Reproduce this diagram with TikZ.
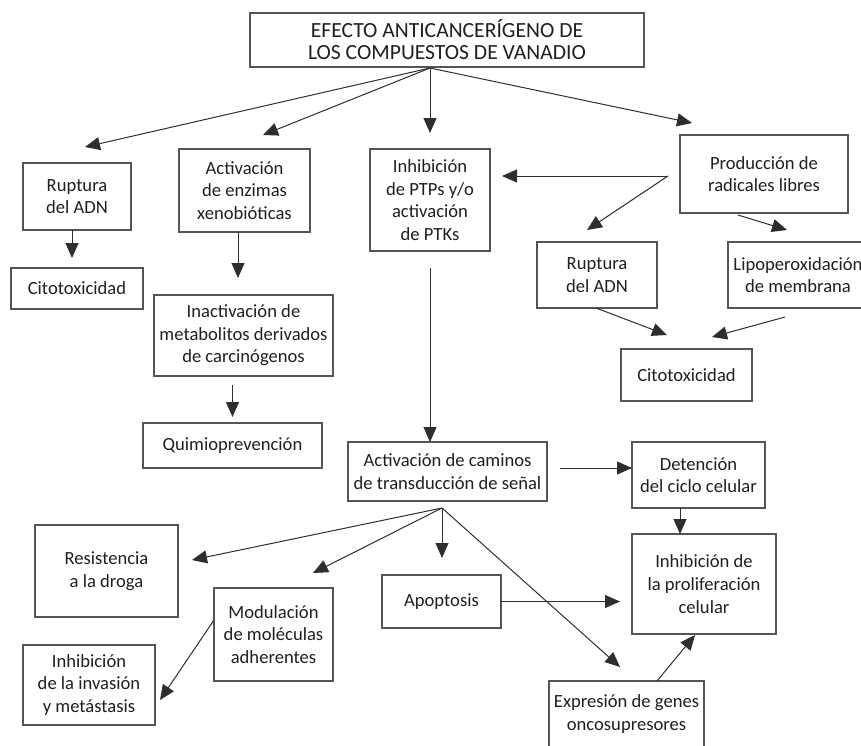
\documentclass[tikz,border=0pt]{standalone}
\usepackage{fontspec}
\setmainfont{Carlito}
\usepackage{tikz}
\usetikzlibrary{arrows.meta, positioning, calc}

\definecolor{linea}{HTML}{2E2E2E}
\definecolor{borde}{HTML}{555555}

\begin{document}
\begin{tikzpicture}[x=0.5pt, y=-0.5pt, >={Triangle[length=7.5pt,width=6.5pt]},
        caja/.style={draw=borde, line width=0.65pt, align=center, inner sep=0pt, outer sep=0pt,
          font=\fontsize{9.3}{11.3}\selectfont, text=black!88},
        flecha/.style={->, draw=linea, line width=0.5pt}]
        \useasboundingbox (0,0) rectangle (861,745);
        \clip (0,0) rectangle (861,745);
        % cajas
        \node[caja, minimum width=197pt, minimum height=27pt, font=\fontsize{10.8}{11}\selectfont] (efecto) at (447,40) {EFECTO ANTICANCERÍGENO DE\\LOS COMPUESTOS DE VANADIO};
        \node[caja, minimum width=54pt, minimum height=33.5pt] (rup1) at (77,196.5) {Ruptura\\del ADN};
        \node[caja, minimum width=66pt, minimum height=20.5pt] (cito1) at (77,288.5) {Citotoxicidad};
        \node[caja, minimum width=65.5pt, minimum height=41.5pt] (enz) at (244.5,190.5) {Activación\\de enzimas\\xenobióticas};
        \node[caja, minimum width=89.5pt, minimum height=40.5pt] (inact) at (243.5,335.5) {Inactivación de\\metabolitos derivados\\de carcinógenos};
        \node[caja, minimum width=89.5pt, minimum height=22.5pt] (quimio) at (232.5,445.5) {Quimioprevención};
        \node[caja, minimum width=60pt, minimum height=51pt] (ptp) at (430,200) {Inhibición\\de PTPs y/o\\activación\\de PTKs};
        \node[caja, minimum width=84pt, minimum height=39pt] (prod) at (764,174) {Producción de\\radicales libres};
        \node[caja, minimum width=60pt, minimum height=33pt] (rup2) at (597,275) {Ruptura\\del ADN};
        \node[caja, minimum width=70pt, minimum height=33pt] (lipo) at (798,275) {Lipoperoxidación\\de membrana};
        \node[caja, minimum width=65.5pt, minimum height=26pt] (cito2) at (686.5,375) {Citotoxicidad};
        \node[caja, minimum width=99.5pt, minimum height=29.5pt] (cam) at (447.5,471.5) {Activación de caminos\\de transducción de señal};
        \node[caja, minimum width=66.5pt, minimum height=33pt] (det) at (698.5,475) {Detención\\del ciclo celular};
        \node[caja, minimum width=72pt, minimum height=50pt] (prol) at (704,584) {Inhibición de\\la proliferación\\celular};
        \node[caja, minimum width=71.5pt, minimum height=46pt] (res) at (106.5,571) {Resistencia\\a la droga};
        \node[caja, minimum width=59.5pt, minimum height=46.5pt] (mod) at (273.5,634.5) {Modulación\\de moléculas\\adherentes};
        \node[caja, minimum width=66pt, minimum height=40pt] (inv) at (89,685) {Inhibición\\de la invasión\\y metástasis};
        \node[caja, minimum width=59.5pt, minimum height=26.5pt] (apo) at (441.5,601.5) {Apoptosis};
        \node[caja, minimum width=77.5pt, minimum height=33pt] (expr) at (626.5,714) {Expresión de genes\\oncosupresores};
        % puntos de salida
        \coordinate (tfan) at (430,68);
        \coordinate (pfan) at (668,176);
        \coordinate (cfan) at (442,508);
        % flechas
        \draw[flecha] (tfan) -- ([shift={(8,-16)}]rup1.north);
        \draw[flecha] (tfan) -- ([shift={(18.5,-14)}]enz.north);
        \draw[flecha, shorten >=8pt] (tfan) -- (tfan |- ptp.north);
        \draw[flecha] (tfan) -- ([shift={(12,-12)}]prod.north west);
        \draw[flecha, shorten >=5pt] ([shift={(-5,0)}]rup1.south) -- ([shift={(-5,0)}]rup1.south |- cito1.north);
        \draw[flecha, shorten >=8.5pt] ([shift={(-6.5,0)}]enz.south) -- ([shift={(-6.5,0)}]enz.south |- inact.north);
        \draw[flecha, shorten <=4.5pt, shorten >=3pt] (quimio.north |- inact.south) -- (quimio.north);
        \draw[flecha, shorten <=8.5pt] (ptp.south) -- (ptp.south |- cam.north);
        \draw[flecha, shorten >=6pt] (pfan) -- (pfan -| ptp.east);
        \draw[flecha] (pfan) -- ([shift={(-10,-12)}]rup2.north);
        \draw[flecha] ([shift={(-26,2)}]prod.south) -- ([shift={(-11,-12)}]lipo.north);
        \draw[flecha] ([shift={(-1,0)}]rup2.south) -- ([shift={(-19.5,-14)}]cito2.north);
        \draw[flecha] ([shift={(-13,9)}]lipo.south) -- ([shift={(25.5,-12)}]cito2.north);
        \draw[flecha, shorten <=6.5pt] ([shift={(0,-3.5)}]cam.east) -- ([shift={(0,-3.5)}]cam.east -| det.west);
        \draw[flecha] ([shift={(-18.5,0)}]det.south) -- ([shift={(-18.5,0)}]det.south |- prol.north);
        \draw[flecha] (cfan) -- ([shift={(14,-11)}]res.east);
        \draw[flecha] (cfan) -- ([shift={(39.5,-15)}]mod.north);
        \draw[flecha, shorten >=8.5pt] (cfan) -- (cfan |- apo.north);
        \draw[flecha] (cfan) -- ([shift={(-6.5,-14)}]expr.north);
        \draw[flecha, shorten >=6pt] (apo.east) -- (apo.east -| prol.west);
        \draw[flecha] ([shift={(0,-14.5)}]mod.west) -- ([shift={(5,15)}]inv.east);
        \draw[flecha] ([shift={(30.5,0)}]expr.north) -- ([shift={(-9,1)}]prol.south);
\end{tikzpicture}
\end{document}
